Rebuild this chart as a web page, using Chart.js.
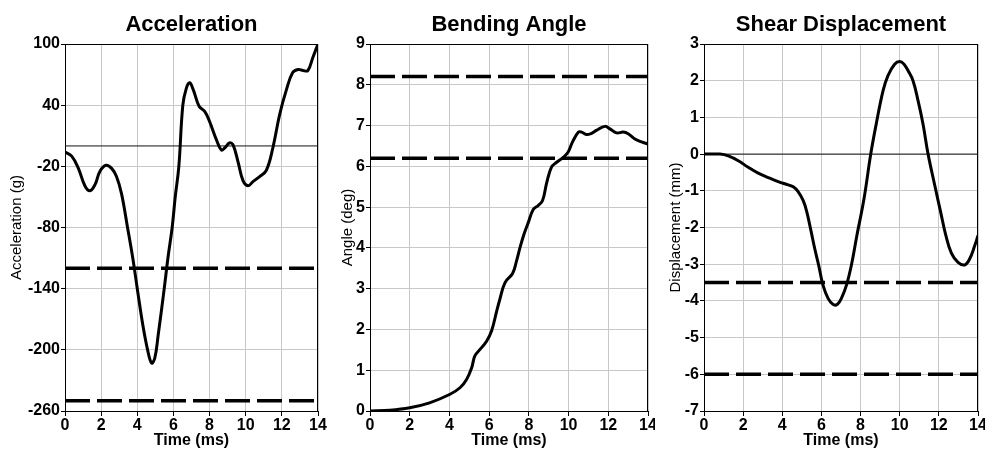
<!DOCTYPE html>
<html>
<head>
<meta charset="utf-8">
<script src="https://cdn.jsdelivr.net/npm/chart.js@4.4.1/dist/chart.umd.min.js"></script>
<style>
  html, body { margin: 0; padding: 0; background: #ffffff; }
  #wrap { position: relative; width: 985px; height: 450px; background: #ffffff; overflow: hidden; }
  canvas { position: absolute; top: 0; }
</style>
</head>
<body>
<div id="wrap">
  <canvas id="c1" width="330" height="450" style="left:0px;width:330px;height:450px"></canvas>
  <canvas id="c2" width="325" height="450" style="left:330px;width:325px;height:450px"></canvas>
  <canvas id="c3" width="330" height="450" style="left:655px;width:330px;height:450px"></canvas>
</div>
<script>
// ---------- DATA ----------
const timeTicks = [0, 2, 4, 6, 8, 10, 12, 14];

const accelTime = [0,0.37,0.74,1.1,1.38,1.66,1.93,2.27,2.58,2.85,3.13,3.46,3.75,4.0,4.3,4.57,4.79,4.97,5.16,5.49,5.71,5.93,6.1,6.3,6.52,6.72,6.9,7.1,7.42,7.73,8.0,8.38,8.65,8.84,9.1,9.3,9.58,9.85,10.13,10.4,10.77,11.14,11.5,11.88,12.25,12.6,12.9,13.17,13.44,13.72,14];
const accelValues = [-6,-10,-22,-39,-44,-38,-25,-19,-22,-30,-47,-80,-110,-140,-175,-200,-213,-208,-185,-140,-108,-80,-50,-20,40,57,62,55,39,34,24,6,-4,-2,3,1,-16,-34,-39,-35,-30,-24,-2,31,55,72,75,74,74,87,100];
const accelLimits = [-120, -250];
const accelTicks = [-260, -200, -140, -80, -20, 40, 100];

const bendTime = [0,1,2,3,4.03,4.53,4.87,5.12,5.28,5.54,5.87,6.12,6.38,6.54,6.8,7.18,7.38,7.55,7.75,7.97,8.22,8.47,8.69,8.9,9.14,9.4,9.73,9.98,10.2,10.5,10.65,10.9,11.16,11.4,11.83,12.08,12.42,12.75,13.0,13.34,13.67,14];
const bendValues = [0,0.02,0.08,0.2,0.41,0.57,0.78,1.06,1.35,1.51,1.71,1.96,2.45,2.74,3.15,3.37,3.68,4.0,4.33,4.62,4.94,5.04,5.16,5.6,5.98,6.1,6.22,6.35,6.6,6.84,6.84,6.78,6.81,6.88,6.98,6.92,6.82,6.84,6.8,6.67,6.6,6.55];
const bendLimits = [8.2, 6.2];
const bendTicks = [0, 1, 2, 3, 4, 5, 6, 7, 8, 9];

const shearTime = [0,0.82,1.24,1.75,2.26,2.77,3.28,3.79,4.3,4.56,4.81,5.07,5.24,5.47,5.66,5.86,6.08,6.34,6.6,6.82,7.02,7.28,7.53,7.8,8.18,8.52,8.8,9.15,9.4,9.74,10.0,10.22,10.43,10.68,10.94,11.19,11.45,11.79,12.1,12.35,12.64,12.98,13.32,13.57,13.83,14];
const shearValues = [0,0,-0.05,-0.18,-0.36,-0.52,-0.64,-0.75,-0.84,-0.89,-1.02,-1.27,-1.55,-2.1,-2.58,-3.03,-3.57,-3.93,-4.1,-4.09,-3.93,-3.57,-3.03,-2.25,-1.2,0,0.82,1.73,2.14,2.45,2.52,2.45,2.27,2.0,1.45,0.82,0,-0.85,-1.6,-2.2,-2.7,-2.95,-3.02,-2.86,-2.5,-2.22];
const shearLimits = [-3.5, -6];
const shearTicks = [-7, -6, -5, -4, -3, -2, -1, 0, 1, 2, 3];

// ---------- HELPERS ----------
const FONT = "'Liberation Sans', Arial, sans-serif";
const xs = (t, v) => t.map((x, i) => ({ x: x, y: v[i] }));
const hLine = (val) => [{ x: timeTicks[0], y: val }, { x: timeTicks[timeTicks.length - 1], y: val }];

const framePlugin = {
  id: 'frame',
  beforeDatasetsDraw(chart) {
    const a = chart.chartArea, ctx = chart.ctx;
    ctx.save();
    ctx.strokeStyle = '#000';
    ctx.lineWidth = 1;
    ctx.strokeRect(Math.round(a.left) + 0.5, Math.round(a.top) + 0.5, Math.round(a.right - a.left) - 1, Math.round(a.bottom - a.top));
    ctx.restore();
  }
};

function makeChart(id, o) {
  const datasets = [
    { data: xs(o.time, o.values), borderColor: '#000', borderWidth: 3, pointRadius: 0, tension: 0.4, fill: false }
  ];
  o.limits.forEach(l => datasets.push({ data: hLine(l), borderColor: '#000', borderWidth: 3.5, borderDash: [25, 7], pointRadius: 0, fill: false }));
  if (o.zero) datasets.push({ data: hLine(0), borderColor: '#111', borderWidth: 1, pointRadius: 0, fill: false });

  return new Chart(document.getElementById(id), {
    type: 'line',
    data: { datasets },
    plugins: [framePlugin],
    options: {
      responsive: false,
      animation: false,
      events: [],
      layout: { padding: { left: 0, right: o.padRight, top: 0, bottom: 0 } },
      plugins: {
        legend: { display: false },
        tooltip: { enabled: false },
        title: {
          display: true, text: o.title, color: '#000', fullSize: false,
          font: { family: FONT, size: 22, weight: 'bold' },
          padding: { top: 12, bottom: 5.6 }
        }
      },
      scales: {
        x: {
          type: 'linear', min: 0, max: 14,
          afterBuildTicks: s => { s.ticks = timeTicks.map(v => ({ value: v })); },
          afterFit: s => { s.height = 39; s.paddingLeft = 0; s.paddingRight = 0; },
          grid: { color: '#c8c8c8', lineWidth: 1, tickColor: '#000', tickLength: 5, drawTicks: true },
          border: { display: true, color: '#000' },
          ticks: { color: '#000', padding: 0, maxRotation: 0, autoSkip: false, font: { family: FONT, size: 16, weight: 'bold' } },
          title: { display: true, text: 'Time (ms)', color: '#000', padding: { top: 0, bottom: 0 }, font: { family: FONT, size: 16, weight: 'bold' } }
        },
        y: {
          type: 'linear', min: o.yMin, max: o.yMax,
          afterBuildTicks: s => { s.ticks = o.ticks.map(v => ({ value: v })); },
          afterFit: s => { s.width = o.yWidth; s.paddingTop = 0; s.paddingBottom = 0; },
          grid: { color: '#c8c8c8', lineWidth: 1, tickColor: '#000', tickLength: 4, drawTicks: true },
          border: { display: true, color: '#000' },
          ticks: { color: '#000', padding: 1, autoSkip: false, font: { family: FONT, size: 16, weight: 'bold' } },
          title: { display: true, text: o.yTitle, color: '#000', padding: { top: o.yTitlePad, bottom: 0 }, font: { family: FONT, size: 15, weight: 'normal' } }
        }
      }
    }
  });
}

makeChart('c1', { title: 'Acceleration', yTitle: 'Acceleration (g)', time: accelTime, values: accelValues, limits: accelLimits, ticks: accelTicks, yMin: -260, yMax: 100, zero: true, yWidth: 65, padRight: 12, yTitlePad: 8 });
makeChart('c2', { title: 'Bending Angle', yTitle: 'Angle (deg)', time: bendTime, values: bendValues, limits: bendLimits, ticks: bendTicks, yMin: 0, yMax: 9, zero: false, yWidth: 40, padRight: 7, yTitlePad: 9 });
makeChart('c3', { title: 'Shear Displacement', yTitle: 'Displacement (mm)', time: shearTime, values: shearValues, limits: shearLimits, ticks: shearTicks, yMin: -7, yMax: 3, zero: true, yWidth: 49, padRight: 7, yTitlePad: 12 });
</script>
</body>
</html>
